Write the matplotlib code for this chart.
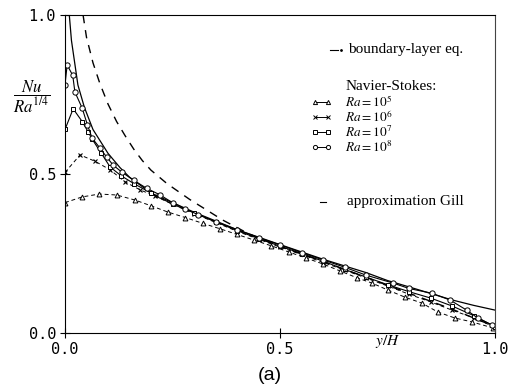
import matplotlib
matplotlib.use("Agg")
import matplotlib.pyplot as plt
from matplotlib.lines import Line2D

plt.rcParams['mathtext.fontset'] = 'stix'

# Navier-Stokes results, Nu / Ra^(1/4) against y/H
ra5_x = [0.0, 0.04, 0.08, 0.12, 0.163, 0.2, 0.24, 0.28, 0.32, 0.36, 0.4, 0.44, 0.48,
         0.52, 0.56, 0.6, 0.64, 0.68, 0.714, 0.751, 0.79, 0.83, 0.867, 0.907, 0.946, 0.995]
ra5_y = [0.41, 0.428, 0.437, 0.434, 0.418, 0.40, 0.38, 0.363, 0.345, 0.328, 0.31, 0.292, 0.274,
         0.255, 0.236, 0.217, 0.195, 0.173, 0.157, 0.135, 0.113, 0.094, 0.066, 0.047, 0.035, 0.016]

ra6_x = [0.0, 0.035, 0.07, 0.105, 0.14, 0.175, 0.21, 0.25, 0.3, 0.35, 0.4, 0.45, 0.5,
         0.55, 0.6, 0.65, 0.7, 0.75, 0.8, 0.85, 0.9, 0.95, 1.0]
ra6_y = [0.505, 0.56, 0.54, 0.513, 0.475, 0.45, 0.43, 0.405, 0.375, 0.348, 0.32, 0.295, 0.27,
         0.247, 0.222, 0.198, 0.173, 0.148, 0.122, 0.098, 0.072, 0.048, 0.018]

ra7_x = [0.0, 0.019, 0.04, 0.054, 0.063, 0.084, 0.105, 0.13, 0.16, 0.2, 0.25, 0.3, 0.35,
         0.4, 0.45, 0.5, 0.55, 0.6, 0.65, 0.7, 0.75, 0.8, 0.85, 0.9, 0.95, 1.0]
ra7_y = [0.64, 0.705, 0.665, 0.632, 0.61, 0.566, 0.522, 0.495, 0.47, 0.44, 0.405, 0.378, 0.35,
         0.322, 0.297, 0.273, 0.25, 0.226, 0.2, 0.176, 0.152, 0.13, 0.11, 0.085, 0.055, 0.02]

ra8_x = [0.0, 0.005, 0.018, 0.023, 0.04, 0.052, 0.063, 0.081, 0.097, 0.112, 0.132, 0.16, 0.19,
         0.22, 0.25, 0.28, 0.31, 0.35, 0.4, 0.45, 0.5, 0.55, 0.6, 0.65, 0.7, 0.763, 0.8,
         0.853, 0.895, 0.934, 0.96, 0.993]
ra8_y = [0.78, 0.843, 0.81, 0.758, 0.707, 0.655, 0.613, 0.582, 0.553, 0.528, 0.506, 0.48, 0.455,
         0.435, 0.41, 0.39, 0.372, 0.35, 0.325, 0.30, 0.277, 0.253, 0.23, 0.207, 0.182, 0.157, 0.14,
         0.125, 0.104, 0.072, 0.047, 0.025]

# Boundary-layer equation (dashed)
bl_x = [0.042, 0.05, 0.065, 0.081, 0.1, 0.12, 0.14, 0.16, 0.18, 0.2, 0.237, 0.29, 0.367,
        0.43, 0.5, 0.6, 0.7, 0.8, 0.9, 1.0]
bl_y = [1.0, 0.93, 0.85, 0.785, 0.72, 0.665, 0.62, 0.578, 0.542, 0.512, 0.47, 0.42, 0.355,
        0.31, 0.272, 0.225, 0.175, 0.125, 0.075, 0.02]

# Gill's approximation (solid)
gill_x = [0.010, 0.015, 0.03, 0.045, 0.065, 0.1, 0.128, 0.15, 0.2, 0.25, 0.3, 0.4, 0.5,
          0.6, 0.7, 0.75, 0.8, 0.9, 0.95, 1.0]
gill_y = [1.0, 0.92, 0.78, 0.71, 0.64, 0.565, 0.52, 0.49, 0.44, 0.41, 0.38, 0.325, 0.278,
          0.232, 0.19, 0.165, 0.145, 0.104, 0.087, 0.072]

ticks = [0.0, 0.5, 1.0]
tick_labels = ["0.0", "0.5", "1.0"]

W, H = 516, 391
fig = plt.figure(figsize=(W / 100, H / 100), dpi=100)
ax = fig.add_axes([65 / W, 1 - 333 / H, 430 / W, 318 / H])


def fp(x, y):
    return x / W, 1 - y / H


open_mk = dict(markerfacecolor='white', markeredgecolor='black', markeredgewidth=0.7)
ax.plot(gill_x, gill_y, '-', color='black', lw=0.9)
bl_line, = ax.plot(bl_x, bl_y, color='black', lw=1.0)
bl_line.set_dashes([6, 5])
ax.plot(ra5_x, ra5_y, color='black', lw=0.7, linestyle=(0, (4, 3)), marker='^', ms=3.5,
        **open_mk)
ax.plot(ra6_x, ra6_y, color='black', lw=0.7, linestyle=(0, (4, 3)), marker='x', ms=3.5,
        markeredgewidth=0.8)
ax.plot(ra7_x, ra7_y, color='black', lw=0.8, marker='s', ms=3.5, **open_mk)
ax.plot(ra8_x, ra8_y, color='black', lw=0.8, marker='o', ms=3.8, **open_mk)

ax.set_xlim(0, 1)
ax.set_ylim(0, 1)
ax.set_xticks(ticks)
ax.set_yticks(ticks)
tfont = dict(family='DejaVu Sans Mono', size=11)
ax.set_xticklabels(tick_labels, fontdict=tfont)
ax.set_yticklabels(tick_labels, fontdict=tfont)
ax.tick_params(direction='inout', length=7, width=0.8, pad=3)
for s in ax.spines.values():
    s.set_linewidth(0.8)
ax.spines['right'].set_color('#444444')

fig.text(*fp(32, 97), r'$\dfrac{Nu}{Ra^{1/4}}$', fontsize=12, ha='center', va='center')
fig.text(*fp(388, 341), r'$y/H$', fontsize=11, ha='center', va='center')
fig.text(*fp(270, 375), '(a)', fontsize=14, family='Liberation Sans', ha='center', va='center')

serif = dict(family='Liberation Serif', fontsize=11, va='center')

# key
fig.add_artist(Line2D([330 / W, 338 / W], [1 - 50 / H] * 2, color='black', lw=0.8))
fig.add_artist(Line2D([341 / W], [1 - 50 / H], marker='.', ms=2, color='black'))
fig.text(*fp(348, 50), 'boundary-layer eq.', **serif)
fig.text(*fp(346, 86), 'Navier-Stokes:', **serif)
keys = [('^', r'$Ra = 10^5$', 102), ('x', r'$Ra = 10^6$', 117),
        ('s', r'$Ra = 10^7$', 132), ('o', r'$Ra = 10^8$', 147)]
for m, lab, yy in keys:
    fig.add_artist(Line2D([315 / W, 328 / W], [1 - yy / H] * 2, color='black', lw=0.7,
                          marker=m, ms=3, markerfacecolor='white',
                          markeredgecolor='black', markeredgewidth=0.7))
    fig.text(*fp(345, yy), lab, fontsize=9.5, va='center')
fig.add_artist(Line2D([320 / W, 326 / W], [1 - 202 / H] * 2, color='black', lw=0.8))
fig.text(*fp(347, 202), 'approximation Gill', **serif)

fig.savefig('out.png', dpi=100)
